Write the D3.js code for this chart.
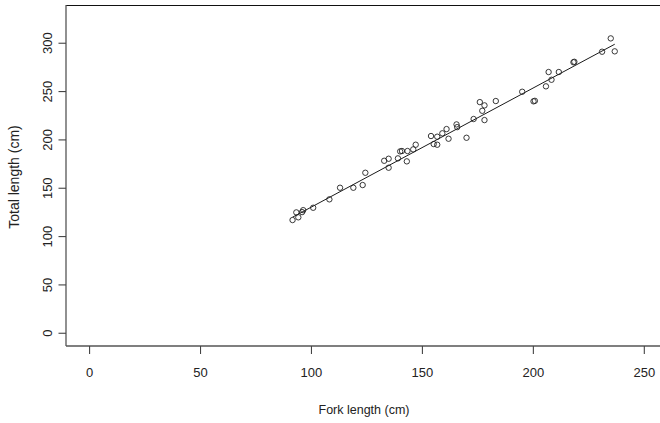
<!DOCTYPE html>
<html>
<head>
<meta charset="utf-8">
<script src="https://cdn.jsdelivr.net/npm/d3@7"></script>
<style>
  html, body { margin: 0; padding: 0; background: #fff; overflow: hidden; }
  text { font-family: "Liberation Sans", Arial, sans-serif; fill: #222; }
</style>
</head>
<body>
<svg id="chart" width="660" height="423"></svg>
<script>
// Fork length (cm) of each fish
const forkLength = [91.7, 93.4, 94.3, 96.0, 96.5, 101.0, 108.3, 113.1, 119.1, 123.3,
  124.5, 133.0, 135.0, 135.0, 139.2, 140.2, 141.0, 143.2, 143.5, 146.1,
  147.2, 154.1, 155.3, 156.9, 156.9, 159.2, 161.1, 162.0, 165.6, 165.9,
  170.1, 173.3, 176.1, 178.2, 177.2, 178.2, 183.3, 195.2, 200.3, 200.9,
  205.9, 207.1, 208.4, 211.7, 218.3, 218.7, 231.2, 235.1, 236.9];
// Total length (cm) of each fish
const totalLength = [116.6, 124.5, 119.4, 124.8, 126.8, 129.3, 138.0, 150.0, 150.0, 152.8,
  165.5, 177.9, 180.0, 170.7, 180.4, 187.6, 188.0, 177.3, 188.0, 189.7,
  194.5, 203.5, 195.2, 202.8, 194.5, 206.3, 210.7, 200.7, 215.5, 212.7,
  201.7, 221.1, 238.6, 235.2, 229.6, 220.0, 239.7, 249.3, 239.4, 239.9,
  254.9, 269.7, 261.7, 269.7, 279.8, 280.3, 290.7, 304.5, 291.1];
// Fitted line: total = intercept + slope * fork
const fitIntercept = [6.6];
const fitSlope = [1.232];
const xTicks = [0, 50, 100, 150, 200, 250];
const yTicks = [0, 50, 100, 150, 200, 250, 300];
const xTitle = "Fork length (cm)";
const yTitle = "Total length (cm)";

const svg = d3.select("#chart");
const L = 66, R = 662, T = 6, B = 346;
const x = d3.scaleLinear().domain([-10.4, 258.2]).range([L, R]);
const y = d3.scaleLinear().domain([-13.7, 338]).range([B, T]);

// box
svg.append("line").attr("x1", L).attr("x2", R + 10).attr("y1", T - 0.5).attr("y2", T - 0.5)
  .attr("stroke", "#111").attr("stroke-width", 1.2);
svg.append("line").attr("x1", L).attr("x2", L).attr("y1", T - 1).attr("y2", B)
  .attr("stroke", "#555").attr("stroke-width", 1.3);
svg.append("line").attr("x1", L).attr("x2", R + 10).attr("y1", B).attr("y2", B)
  .attr("stroke", "#555").attr("stroke-width", 1.3);

// x axis
const xAxis = d3.axisBottom(x).tickValues(xTicks).tickSize(8).tickPadding(14).tickFormat(d3.format("d"));
const gx = svg.append("g").attr("transform", `translate(0,${B})`).call(xAxis);
gx.select(".domain").remove();
gx.selectAll(".tick line").attr("stroke", "#444").attr("stroke-width", 1.1);
gx.selectAll(".tick text").attr("font-size", 13).attr("fill", "#222")
  .attr("font-family", "'Liberation Sans', Arial, sans-serif");

// y axis
const yAxis = d3.axisLeft(y).tickValues(yTicks).tickSize(7.5).tickPadding(7).tickFormat(d3.format("d"));
const gy = svg.append("g").attr("transform", `translate(${L},0)`).call(yAxis);
gy.select(".domain").remove();
gy.selectAll(".tick line").attr("stroke", "#444").attr("stroke-width", 1.1);
gy.selectAll(".tick text").attr("font-size", 13).attr("fill", "#222")
  .attr("font-family", "'Liberation Sans', Arial, sans-serif")
  .attr("transform", "rotate(-90)")
  .attr("x", 0).attr("y", -14.5).attr("dy", 0)
  .attr("text-anchor", "middle");

// titles
svg.append("text").attr("x", 364).attr("y", 414).attr("text-anchor", "middle")
  .attr("font-size", 12.5).text(xTitle);
svg.append("text").attr("transform", "translate(18.5,177) rotate(-90)")
  .attr("text-anchor", "middle").attr("font-size", 14).text(yTitle);

// fitted line over data range
const xr = d3.extent(forkLength);
svg.append("line")
  .attr("x1", x(xr[0])).attr("y1", y(fitIntercept[0] + fitSlope[0] * xr[0]))
  .attr("x2", x(xr[1])).attr("y2", y(fitIntercept[0] + fitSlope[0] * xr[1]))
  .attr("stroke", "#000").attr("stroke-width", 0.9);

// points
svg.append("g").selectAll("circle")
  .data(forkLength.map((f, i) => [f, totalLength[i]]))
  .join("circle")
  .attr("cx", d => x(d[0])).attr("cy", d => y(d[1]))
  .attr("r", 2.7).attr("fill", "none").attr("stroke", "#222").attr("stroke-width", 0.9);
</script>
</body>
</html>
